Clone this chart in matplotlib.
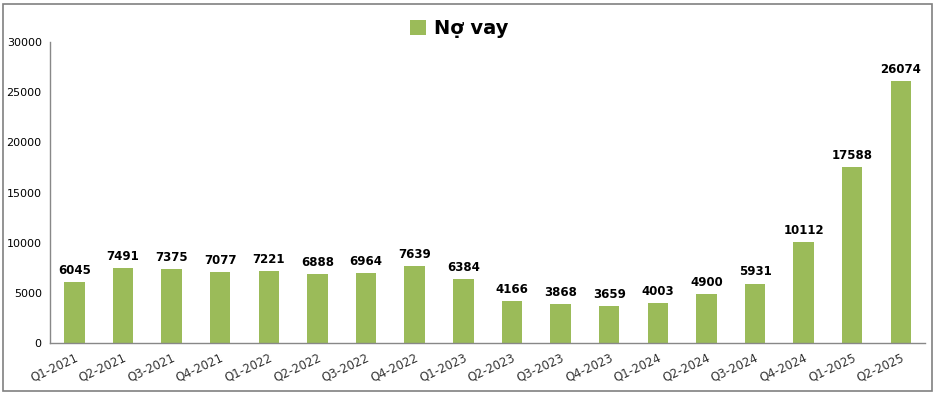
import matplotlib
matplotlib.use("Agg")
import matplotlib.pyplot as plt
from matplotlib.patches import Rectangle

quarters = ["Q1-2021", "Q2-2021", "Q3-2021", "Q4-2021", "Q1-2022", "Q2-2022",
            "Q3-2022", "Q4-2022", "Q1-2023", "Q2-2023", "Q3-2023", "Q4-2023",
            "Q1-2024", "Q2-2024", "Q3-2024", "Q4-2024", "Q1-2025", "Q2-2025"]
no_vay = [6045, 7491, 7375, 7077, 7221, 6888, 6964, 7639, 6384, 4166, 3868,
          3659, 4003, 4900, 5931, 10112, 17588, 26074]

bar_color = "#9BBB59"
plt.rcParams["font.family"] = ["DejaVu Sans"]

fig = plt.figure(figsize=(9.37, 3.97), dpi=100)
ax = fig.add_axes([0.0534, 0.136, 0.934, 0.758])

x = range(len(quarters))
bars = ax.bar(x, no_vay, width=0.42, color=bar_color, label="Nợ vay", zorder=2)

for xi, v in zip(x, no_vay):
    ax.text(xi, v + 500, str(v), ha="center", va="bottom", fontsize=8.5,
            fontweight="bold", color="black")

ax.set_xlim(-0.5, len(quarters) - 0.5)
ax.set_ylim(0, 30000)
ax.set_yticks(range(0, 30001, 5000))
ax.tick_params(axis="y", length=0, labelsize=8, pad=6)
ax.tick_params(axis="x", length=0, labelsize=8.5, pad=6)
ax.set_xticks(list(x))
ax.set_xticklabels(quarters, rotation=25, ha="right", rotation_mode="anchor")
for lbl in ax.get_xticklabels():
    lbl.set_color("#333333")

for side in ["top", "right"]:
    ax.spines[side].set_visible(False)
for side in ["left", "bottom"]:
    ax.spines[side].set_color("#888888")
    ax.spines[side].set_linewidth(1)

leg = fig.legend(handles=[bars], labels=["Nợ vay"], loc="center",
                 bbox_to_anchor=(0.49, 0.928), frameon=False,
                 prop={"size": 14, "weight": "bold"}, handlelength=0.8,
                 handleheight=0.8, handletextpad=0.4)

fig.patches.append(Rectangle((0.003, 0.015), 0.992, 0.975, transform=fig.transFigure,
                             fill=False, edgecolor="#808080", linewidth=1.2))

fig.savefig("out.png", dpi=100)
